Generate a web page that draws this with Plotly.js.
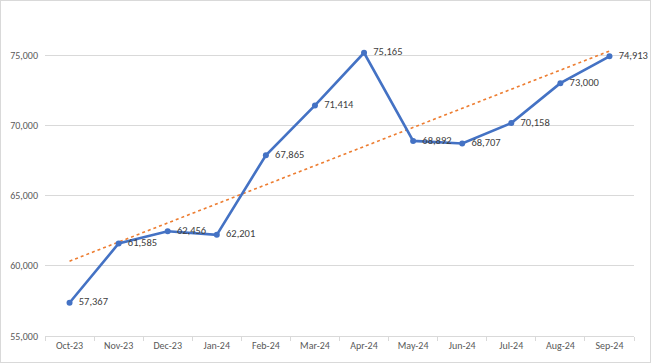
<!DOCTYPE html>
<html>
<head>
<meta charset="utf-8">
<script src="https://cdn.plot.ly/plotly-3.0.1.min.js"></script>
<style>
  html, body { margin: 0; padding: 0; background: #fff; }
  #chart { width: 649px; height: 361px; border: 1px solid #d9d9d9; }
</style>
</head>
<body>
<div id="chart"></div>
<script>
const months = ["Oct-23","Nov-23","Dec-23","Jan-24","Feb-24","Mar-24","Apr-24","May-24","Jun-24","Jul-24","Aug-24","Sep-24"];
const values = [57367, 61585, 62456, 62201, 67865, 71414, 75165, 68892, 68707, 70158, 73000, 74913];
const yTicks = [55000, 60000, 65000, 70000, 75000];

// Linear trendline (least squares) computed from the series
const n = values.length;
const xs = values.map((_, i) => i + 1);
const mx = xs.reduce((a, b) => a + b, 0) / n;
const my = values.reduce((a, b) => a + b, 0) / n;
let sxy = 0, sxx = 0;
for (let i = 0; i < n; i++) { sxy += (xs[i] - mx) * (values[i] - my); sxx += (xs[i] - mx) ** 2; }
const slope = sxy / sxx, icpt = my - slope * mx;
const trend = xs.map(x => icpt + slope * x);

const fontFam = "Carlito, 'Liberation Sans Narrow', 'Liberation Sans', Arial, sans-serif";

const traces = [
  {
    x: months, y: trend, type: "scatter", mode: "lines",
    line: { color: "#ED7D31", width: 1.6, dash: "dot" },
    hoverinfo: "skip", showlegend: false
  },
  {
    x: months, y: values, type: "scatter", mode: "lines+markers+text",
    line: { color: "#4472C4", width: 2.6 },
    marker: { color: "#4472C4", size: 6 },
    text: values.map(v => "\u00a0\u2009" + v.toLocaleString("en-US")),
    textposition: "middle right",
    textfont: { family: fontFam, size: 10.5, color: "#404040" },
    cliponaxis: false,
    showlegend: false
  }
];

const layout = {
  width: 649, height: 361,
  margin: { l: 44, r: 16, t: 19, b: 26 },
  paper_bgcolor: "#fff", plot_bgcolor: "#fff",
  showlegend: false,
  xaxis: {
    type: "category",
    tickson: "boundaries",
    ticks: "outside", ticklen: 4, tickcolor: "#d9d9d9",
    showline: true, linecolor: "#d9d9d9", linewidth: 1,
    showgrid: false,
    tickfont: { family: fontFam, size: 10, color: "#595959" },
    range: [-0.5, 11.5], fixedrange: true
  },
  yaxis: {
    range: [55000, 77500],
    tickvals: yTicks,
    ticktext: yTicks.map(v => v.toLocaleString("en-US")),
    showgrid: true, gridcolor: "#d9d9d9", gridwidth: 1,
    zeroline: false, showline: false, ticks: "",
    ticklabelstandoff: 6,
    tickfont: { family: fontFam, size: 10, color: "#595959" },
    fixedrange: true
  }
};

Plotly.newPlot("chart", traces, layout, { displayModeBar: false, staticPlot: true });
</script>
</body>
</html>
